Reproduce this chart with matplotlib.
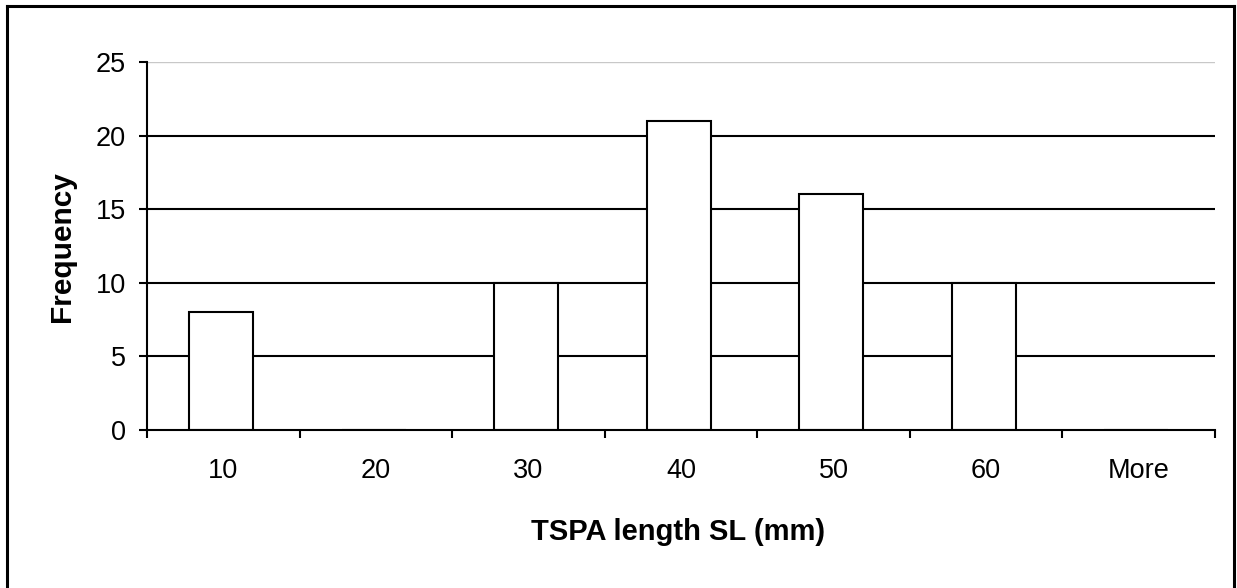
import matplotlib
matplotlib.use("Agg")
import matplotlib.pyplot as plt
from matplotlib.lines import Line2D
import numpy as np

plt.rcParams['font.family'] = ['Liberation Sans', 'DejaVu Sans']

categories = ["10", "20", "30", "40", "50", "60", "More"]
frequency = [8, 0, 10, 21, 16, 10, 0]
y_ticks = [0, 5, 10, 15, 20, 25]
x_label = "TSPA length SL (mm)"
y_label = "Frequency"

W, H = 1237, 588
fig = plt.figure(figsize=(W / 100, H / 100), dpi=100)
fig.patch.set_facecolor("white")

ax = fig.add_axes([147 / W, (H - 430) / H, (1215 - 147) / W, (430 - 62) / H])
x = np.arange(len(categories))

for yv in y_ticks[1:]:
    ax.axhline(yv, color="#c8c8c8" if yv == y_ticks[-1] else "black",
               lw=1.5 if yv != y_ticks[-1] else 1.0, zorder=1)

ax.bar(x - 0.015, frequency, width=0.42, color="white", edgecolor="black",
       linewidth=1.5, zorder=3)

ax.set_xlim(-0.5, len(categories) - 0.5)
ax.set_ylim(0, 25)
ax.set_yticks(y_ticks)
ax.set_xticks(x)
ax.set_xticklabels(categories)
ax.set_xticks(np.arange(-0.5, len(categories)), minor=True)

ax.tick_params(axis="y", which="major", length=6, width=1.5, direction="out",
               labelsize=19.5, pad=9, colors="black")
ax.tick_params(axis="x", which="major", length=0, labelsize=19.5, pad=20)
ax.tick_params(axis="x", which="minor", length=6, width=1.5, direction="out")

for s in ["top", "right"]:
    ax.spines[s].set_visible(False)
for s in ["left", "bottom"]:
    ax.spines[s].set_linewidth(1.5)
    ax.spines[s].set_color("black")
    ax.spines[s].set_zorder(4)

fig.text(62 / W, (H - 247) / H, y_label, rotation=90, fontsize=21.5,
         fontweight="bold", ha="center", va="center")
fig.text(678 / W, (H - 532) / H, x_label, fontsize=21, fontweight="bold",
         ha="center", va="center")

# outer frame (left, top, right)
fig.add_artist(Line2D([6.5 / W, 6.5 / W], [0, (H - 6) / H], color="black", lw=2.2,
                      transform=fig.transFigure))
fig.add_artist(Line2D([6.5 / W, 1234 / W], [(H - 6) / H, (H - 6) / H], color="black",
                      lw=2.2, transform=fig.transFigure))
fig.add_artist(Line2D([1234 / W, 1234 / W], [0, (H - 6) / H], color="black", lw=2.2,
                      transform=fig.transFigure))

fig.savefig("out.png", dpi=100, facecolor="white")
